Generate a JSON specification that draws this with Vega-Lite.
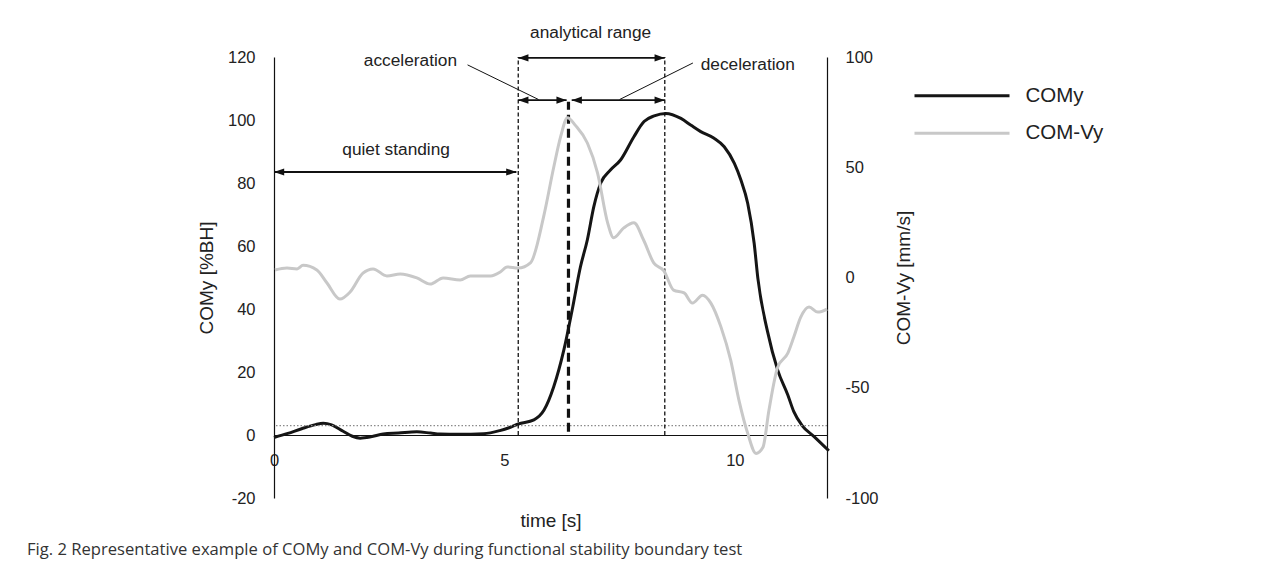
{
  "$schema": "https://vega.github.io/schema/vega-lite/v6.json",
  "width": 553,
  "height": 441,
  "autosize": {"type": "none"},
  "padding": {"left": 274, "top": 57, "right": 457, "bottom": 75},
  "background": "white",
  "config": {
    "view": {"stroke": null},
    "font": "Liberation Sans",
    "axis": {
      "grid": false,
      "ticks": false,
      "domainColor": "#111111",
      "domainWidth": 1.2,
      "labelFont": "Liberation Sans",
      "labelFontSize": 16.5,
      "labelColor": "#222222",
      "labelExpr": "datum.value + ''",
      "titleFont": "Liberation Sans",
      "titleFontSize": 19,
      "titleFontWeight": "normal",
      "titleColor": "#222222"
    }
  },
  "title": {
    "text": "Fig. 2 Representative example of COMy and COM-Vy during functional stability boundary test",
    "orient": "bottom",
    "anchor": "start",
    "frame": "group",
    "dx": -247,
    "offset": 11,
    "font": "Open Sans",
    "fontSize": 16.6,
    "fontWeight": "normal",
    "color": "#333333"
  },
  "datasets": {
    "comy": [
      {"t": 0, "v": -0.8, "series": "COMy"}, {"t": 0.3, "v": 0.5, "series": "COMy"}, {"t": 0.6, "v": 2.0, "series": "COMy"},
      {"t": 0.9, "v": 3.3, "series": "COMy"}, {"t": 1.07, "v": 3.7, "series": "COMy"}, {"t": 1.25, "v": 3.2, "series": "COMy"},
      {"t": 1.5, "v": 1.2, "series": "COMy"}, {"t": 1.7, "v": -0.4, "series": "COMy"}, {"t": 1.87, "v": -1.0, "series": "COMy"},
      {"t": 2.1, "v": -0.6, "series": "COMy"}, {"t": 2.37, "v": 0.3, "series": "COMy"}, {"t": 2.7, "v": 0.6, "series": "COMy"},
      {"t": 3.1, "v": 1.0, "series": "COMy"}, {"t": 3.4, "v": 0.6, "series": "COMy"}, {"t": 3.6, "v": 0.3, "series": "COMy"},
      {"t": 4.0, "v": 0.2, "series": "COMy"}, {"t": 4.55, "v": 0.4, "series": "COMy"}, {"t": 4.9, "v": 1.4, "series": "COMy"},
      {"t": 5.1, "v": 2.3, "series": "COMy"}, {"t": 5.3, "v": 3.5, "series": "COMy"}, {"t": 5.64, "v": 4.8, "series": "COMy"},
      {"t": 5.86, "v": 7.9, "series": "COMy"}, {"t": 6.07, "v": 15.3, "series": "COMy"}, {"t": 6.29, "v": 27, "series": "COMy"},
      {"t": 6.47, "v": 39.7, "series": "COMy"}, {"t": 6.65, "v": 53.4, "series": "COMy"}, {"t": 6.8, "v": 62, "series": "COMy"},
      {"t": 6.94, "v": 72.5, "series": "COMy"}, {"t": 7.09, "v": 80, "series": "COMy"}, {"t": 7.3, "v": 84.1, "series": "COMy"},
      {"t": 7.52, "v": 87.3, "series": "COMy"}, {"t": 7.81, "v": 94.7, "series": "COMy"}, {"t": 8.03, "v": 99.5, "series": "COMy"},
      {"t": 8.25, "v": 101.3, "series": "COMy"}, {"t": 8.5, "v": 102.1, "series": "COMy"}, {"t": 8.83, "v": 100.5, "series": "COMy"},
      {"t": 9.05, "v": 98.3, "series": "COMy"}, {"t": 9.26, "v": 96.3, "series": "COMy"}, {"t": 9.55, "v": 94.2, "series": "COMy"},
      {"t": 9.77, "v": 91.5, "series": "COMy"}, {"t": 9.99, "v": 86.2, "series": "COMy"}, {"t": 10.13, "v": 81, "series": "COMy"},
      {"t": 10.28, "v": 73.5, "series": "COMy"}, {"t": 10.42, "v": 60.8, "series": "COMy"}, {"t": 10.5, "v": 49.7, "series": "COMy"},
      {"t": 10.71, "v": 32.8, "series": "COMy"}, {"t": 10.93, "v": 20.6, "series": "COMy"}, {"t": 11.15, "v": 12.7, "series": "COMy"},
      {"t": 11.28, "v": 7.4, "series": "COMy"}, {"t": 11.46, "v": 3, "series": "COMy"}, {"t": 11.72, "v": -0.5, "series": "COMy"},
      {"t": 12.04, "v": -5, "series": "COMy"}
    ],
    "comvy": [
      {"t": 0.02, "v": 3.4, "series": "COM-Vy"}, {"t": 0.28, "v": 4.3, "series": "COM-Vy"}, {"t": 0.5, "v": 3.9, "series": "COM-Vy"},
      {"t": 0.63, "v": 5.5, "series": "COM-Vy"}, {"t": 0.93, "v": 3.4, "series": "COM-Vy"}, {"t": 1.15, "v": -2.5, "series": "COM-Vy"},
      {"t": 1.43, "v": -9.8, "series": "COM-Vy"}, {"t": 1.65, "v": -6.6, "series": "COM-Vy"}, {"t": 1.93, "v": 2, "series": "COM-Vy"},
      {"t": 2.15, "v": 3.9, "series": "COM-Vy"}, {"t": 2.45, "v": 0.7, "series": "COM-Vy"}, {"t": 2.74, "v": 1.6, "series": "COM-Vy"},
      {"t": 3.1, "v": -0.2, "series": "COM-Vy"}, {"t": 3.39, "v": -3, "series": "COM-Vy"}, {"t": 3.67, "v": -0.2, "series": "COM-Vy"},
      {"t": 4.04, "v": -1.1, "series": "COM-Vy"}, {"t": 4.26, "v": 0.7, "series": "COM-Vy"}, {"t": 4.7, "v": 0.7, "series": "COM-Vy"},
      {"t": 4.91, "v": 2.5, "series": "COM-Vy"}, {"t": 5.06, "v": 4.8, "series": "COM-Vy"}, {"t": 5.3, "v": 4.3, "series": "COM-Vy"},
      {"t": 5.57, "v": 6.8, "series": "COM-Vy"}, {"t": 5.85, "v": 27.5, "series": "COM-Vy"}, {"t": 6.07, "v": 50, "series": "COM-Vy"},
      {"t": 6.22, "v": 63.9, "series": "COM-Vy"}, {"t": 6.37, "v": 72.5, "series": "COM-Vy"}, {"t": 6.54, "v": 69, "series": "COM-Vy"},
      {"t": 6.8, "v": 61, "series": "COM-Vy"}, {"t": 7.02, "v": 47.5, "series": "COM-Vy"}, {"t": 7.24, "v": 24.8, "series": "COM-Vy"},
      {"t": 7.37, "v": 18, "series": "COM-Vy"}, {"t": 7.59, "v": 22.5, "series": "COM-Vy"}, {"t": 7.81, "v": 24.8, "series": "COM-Vy"},
      {"t": 8.02, "v": 17, "series": "COM-Vy"}, {"t": 8.24, "v": 6.6, "series": "COM-Vy"}, {"t": 8.46, "v": 3, "series": "COM-Vy"},
      {"t": 8.67, "v": -5.7, "series": "COM-Vy"}, {"t": 8.9, "v": -7, "series": "COM-Vy"}, {"t": 9.08, "v": -11.6, "series": "COM-Vy"},
      {"t": 9.3, "v": -8, "series": "COM-Vy"}, {"t": 9.48, "v": -11.6, "series": "COM-Vy"}, {"t": 9.7, "v": -22.5, "series": "COM-Vy"},
      {"t": 9.91, "v": -37.5, "series": "COM-Vy"}, {"t": 10.09, "v": -55.7, "series": "COM-Vy"}, {"t": 10.28, "v": -70.7, "series": "COM-Vy"},
      {"t": 10.46, "v": -79.8, "series": "COM-Vy"}, {"t": 10.61, "v": -77, "series": "COM-Vy"}, {"t": 10.74, "v": -60.2, "series": "COM-Vy"},
      {"t": 10.93, "v": -40.7, "series": "COM-Vy"}, {"t": 11.15, "v": -34.3, "series": "COM-Vy"}, {"t": 11.28, "v": -27, "series": "COM-Vy"},
      {"t": 11.43, "v": -18, "series": "COM-Vy"}, {"t": 11.61, "v": -13.4, "series": "COM-Vy"}, {"t": 11.8, "v": -15.7, "series": "COM-Vy"},
      {"t": 12.0, "v": -14.3, "series": "COM-Vy"}
    ],
    "thinlines": [
      {"x": 5.3, "y": 0, "y2": 120},
      {"x": 8.48, "y": 0, "y2": 120}
    ],
    "thickline": [
      {"x": 6.39, "y": 1, "y2": 105.8}
    ],
    "arrows": [
      {"x": 0, "x2": 5.26, "y": 83.5},
      {"x": 5.3, "x2": 8.48, "y": 119.7},
      {"x": 5.3, "x2": 6.35, "y": 106.3},
      {"x": 6.46, "x2": 8.48, "y": 106.3}
    ],
    "heads": [
      {"x": 0, "y": 83.5, "dir": "L"}, {"x": 5.26, "y": 83.5, "dir": "R"},
      {"x": 5.3, "y": 119.7, "dir": "L"}, {"x": 8.48, "y": 119.7, "dir": "R"},
      {"x": 5.3, "y": 106.3, "dir": "L"}, {"x": 6.35, "y": 106.3, "dir": "R"},
      {"x": 6.46, "y": 106.3, "dir": "L"}, {"x": 8.48, "y": 106.3, "dir": "R"}
    ],
    "leaders": [
      {"x": 4.2, "y": 117.5, "x2": 5.74, "y2": 106.5},
      {"x": 9.09, "y": 118.1, "x2": 7.5, "y2": 106.5}
    ],
    "threshold": [{"y": 3}],
    "labels": [
      {"x": 2.65, "y": 90.5, "text": "quiet standing"},
      {"x": 6.87, "y": 127.6, "text": "analytical range"},
      {"x": 2.96, "y": 118.7, "text": "acceleration"},
      {"x": 10.28, "y": 117.5, "text": "deceleration"}
    ]
  },
  "layer": [
    {
      "layer": [
        {
          "data": {"name": "comy"},
          "mark": {"type": "line", "strokeWidth": 3, "interpolate": "monotone"},
          "encoding": {
            "x": {
              "field": "t", "type": "quantitative",
              "scale": {"domain": [0, 12], "nice": false},
              "axis": {"title": "time [s]", "values": [0, 5, 10], "offset": -63, "labelPadding": 17, "titlePadding": 43, "labelFlush": false}
            },
            "y": {
              "field": "v", "type": "quantitative",
              "scale": {"domain": [-20, 120], "nice": false},
              "axis": {"title": "COMy [%BH]", "values": [-20, 0, 20, 40, 60, 80, 100, 120], "labelPadding": 19, "titlePadding": 11}
            },
            "color": {
              "field": "series", "type": "nominal",
              "scale": {"domain": ["COMy", "COM-Vy"], "range": ["#151515", "#c8c8c8"]},
              "legend": {
                "title": null, "orient": "none", "legendX": 640.5, "legendY": 28.5,
                "symbolType": "M-2.05,0H16.95", "symbolSize": 100, "symbolStrokeWidth": 3, "symbolFillColor": "transparent",
                "labelFont": "Liberation Sans", "labelFontSize": 20.5, "labelColor": "#222222",
                "labelOffset": 90.5, "padding": 0, "rowPadding": 16.5
              }
            }
          }
        },
        {
          "data": {"name": "threshold"},
          "mark": {"type": "rule", "color": "#8a8a8a", "strokeWidth": 1.2, "strokeDash": [1.5, 2]},
          "encoding": {"y": {"field": "y", "type": "quantitative"}}
        },
        {
          "data": {"name": "thinlines"},
          "mark": {"type": "rule", "color": "#111111", "strokeWidth": 1.3, "strokeDash": [4, 2.5]},
          "encoding": {
            "x": {"field": "x", "type": "quantitative"},
            "y": {"field": "y", "type": "quantitative"},
            "y2": {"field": "y2"}
          }
        },
        {
          "data": {"name": "thickline"},
          "mark": {"type": "rule", "color": "#111111", "strokeWidth": 3.2, "strokeDash": [9, 5]},
          "encoding": {
            "x": {"field": "x", "type": "quantitative"},
            "y": {"field": "y", "type": "quantitative"},
            "y2": {"field": "y2"}
          }
        },
        {
          "data": {"name": "arrows"},
          "mark": {"type": "rule", "color": "#111111", "strokeWidth": 1.8},
          "encoding": {
            "x": {"field": "x", "type": "quantitative"},
            "x2": {"field": "x2"},
            "y": {"field": "y", "type": "quantitative"}
          }
        },
        {
          "data": {"name": "heads"},
          "mark": {"type": "point", "filled": true, "color": "#111111", "opacity": 1, "size": 144, "strokeWidth": 0},
          "encoding": {
            "x": {"field": "x", "type": "quantitative"},
            "y": {"field": "y", "type": "quantitative"},
            "shape": {
              "field": "dir", "type": "nominal",
              "scale": {"domain": ["L", "R"], "range": ["M0,0L1.7,-0.6L1.7,0.6Z", "M0,0L-1.7,-0.6L-1.7,0.6Z"]},
              "legend": null
            }
          }
        },
        {
          "data": {"name": "leaders"},
          "mark": {"type": "rule", "color": "#111111", "strokeWidth": 1},
          "encoding": {
            "x": {"field": "x", "type": "quantitative"},
            "y": {"field": "y", "type": "quantitative"},
            "x2": {"field": "x2"},
            "y2": {"field": "y2"}
          }
        },
        {
          "data": {"name": "labels"},
          "mark": {"type": "text", "font": "Liberation Sans", "fontSize": 17.3, "color": "#222222", "align": "center", "baseline": "middle"},
          "encoding": {
            "x": {"field": "x", "type": "quantitative"},
            "y": {"field": "y", "type": "quantitative"},
            "text": {"field": "text"}
          }
        }
      ]
    },
    {
      "data": {"name": "comvy"},
      "mark": {"type": "line", "strokeWidth": 3, "interpolate": "monotone"},
      "encoding": {
        "x": {"field": "t", "type": "quantitative"},
        "y": {
          "field": "v", "type": "quantitative",
          "scale": {"domain": [-100, 100], "nice": false},
          "axis": {"orient": "right", "title": "COM-Vy [mm/s]", "values": [-100, -50, 0, 50, 100], "labelPadding": 18, "titlePadding": 35, "titleAngle": 270}
        },
        "color": {"field": "series", "type": "nominal"}
      }
    }
  ],
  "resolve": {"scale": {"y": "independent"}}
}
